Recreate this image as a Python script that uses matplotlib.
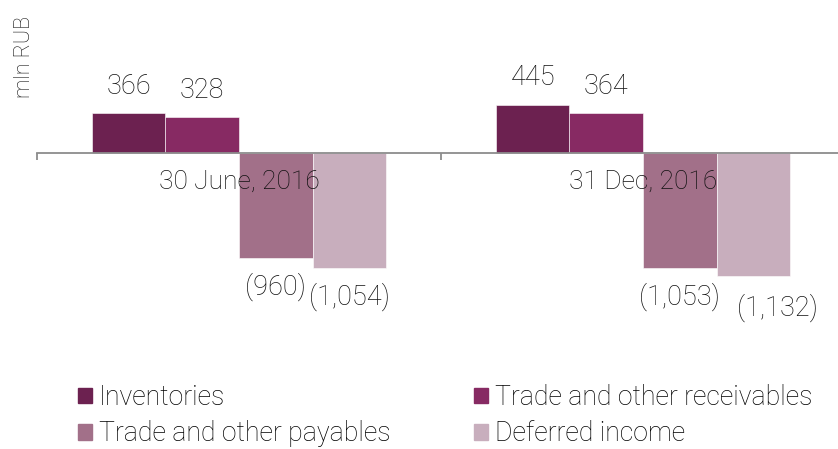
import numpy as np
import matplotlib.pyplot as plt
from matplotlib.patches import Patch

plt.rcParams['font.family'] = ['Roboto', 'DejaVu Sans']
plt.rcParams['font.weight'] = 'light'

# data
dates = ["30 June, 2016", "31 Dec, 2016"]
series = ["Inventories", "Trade and other receivables",
          "Trade and other payables", "Deferred income"]
inventories = [366, 445]
receivables = [328, 364]
payables = [-960, -1053]
deferred = [-1054, -1132]
colors = ["#6c2150", "#872a63", "#a27089", "#c8aebd"]

values = [inventories, receivables, payables, deferred]

fig = plt.figure(figsize=(8.38, 4.49), dpi=100)
ax = fig.add_axes([37 / 838, (449 - 300) / 449, 808 / 838, 300 / 449])

x = np.arange(len(dates))
w = 0.182
handles = []
for i, (vals, c, name) in enumerate(zip(values, colors, series)):
    pos = x + (i - 1.5) * w
    ax.bar(pos, vals, width=w, color=c, edgecolor="white", linewidth=0.4)
    handles.append(Patch(color=c, label=name))
    for px, v in zip(pos, vals):
        lab = f"{v:,}" if v > 0 else f"({-v:,})"
        dy = 27 if v > 0 else -29
        dx = 0
        if lab == "(1,132)":
            dx = 24 * 0.72
            dy = -31
        ax.annotate(lab, (px, v), xytext=(dx, dy * 0.72), textcoords="offset points",
                    ha="center", va="center", fontsize=19.5, color="#111111")

ax.set_xlim(-0.5, 1.5)
ax.set_ylim(-1349, 1404)

for s in ["top", "right", "left"]:
    ax.spines[s].set_visible(False)
ax.spines["bottom"].set_position(("data", 0))
ax.spines["bottom"].set_color("#8c8c8c")
ax.spines["bottom"].set_linewidth(1.3)
ax.set_yticks([])
ax.set_xticks(x)
ax.set_xticklabels(dates, fontsize=19, color="#111111")
ax.tick_params(axis="x", which="major", length=0, pad=12)
ax.set_xticks([-0.5, 0.5, 1.5], minor=True)
ax.tick_params(axis="x", which="minor", length=5, width=1.3, color="#8c8c8c")

fig.text(25 / 838, 1 - 57 / 449, "mln RUB", rotation=90, ha="center", va="center",
         fontsize=15.5, color="#111111")

order = [0, 2, 1, 3]
fig.legend([handles[i] for i in order], [series[i] for i in order], ncol=2,
           loc="upper left", bbox_to_anchor=(78 / 838, 1 - 384 / 449), frameon=False,
           fontsize=19.2, handlelength=0.52, handleheight=0.52, handletextpad=0.25,
           columnspacing=3.15, labelspacing=0.35, borderaxespad=0, borderpad=0)

fig.savefig("out.png", dpi=100)
